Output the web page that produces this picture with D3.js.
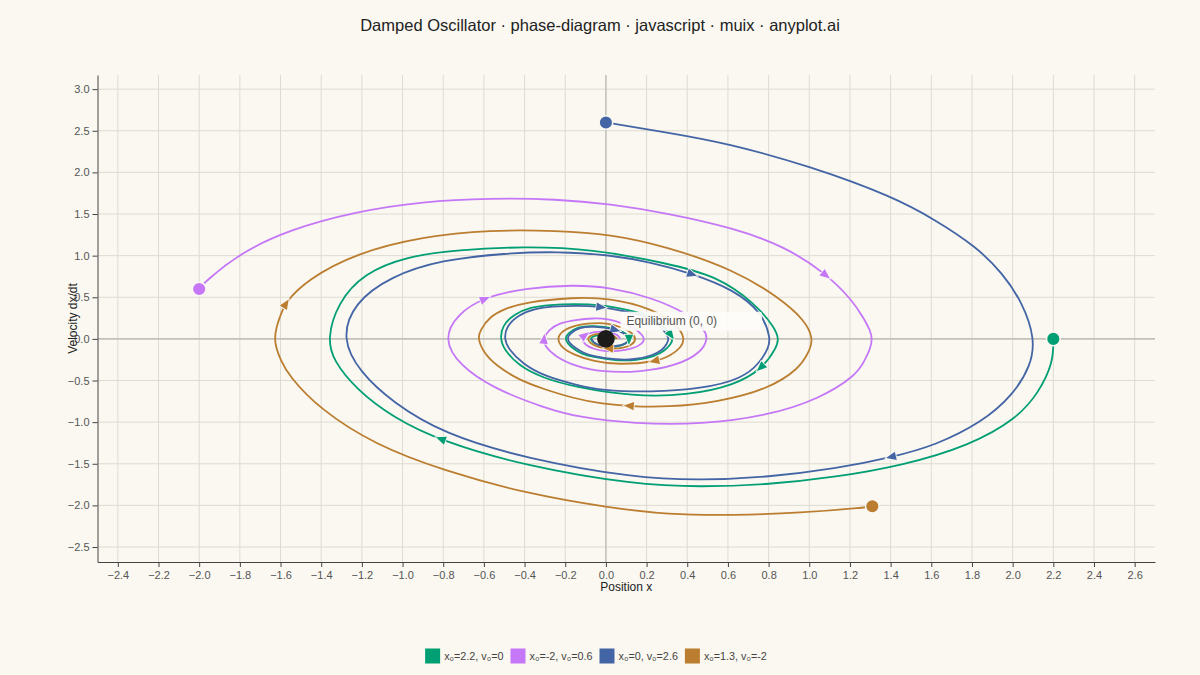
<!DOCTYPE html>
<html>
<head>
<meta charset="utf-8">
<script src="https://cdn.jsdelivr.net/npm/d3@7"></script>
<style>
  html, body { margin: 0; padding: 0; background: #faf8f1; }
  svg { display: block; font-family: "Liberation Sans", Arial, sans-serif; }
</style>
</head>
<body>
<svg id="chart" width="1200" height="675"></svg>
<script>
// ---- data ----
const seriesLabels = ["x₀=2.2, v₀=0", "x₀=-2, v₀=0.6", "x₀=0, v₀=2.6", "x₀=1.3, v₀=-2"];

const greenPath = [
  [2.20, 0], [2.20, -0.28], [2.13, -0.64], [2.02, -0.96], [1.79, -1.28], [1.46, -1.52], [1.13, -1.66],
  [0.80, -1.75], [0.47, -1.78], [0.14, -1.75], [-0.39, -1.53], [-0.81, -1.23], [-1.05, -0.94],
  [-1.23, -0.60], [-1.34, -0.26], [-1.37, 0],
  [-1.32, 0.43], [-1.19, 0.79], [-0.98, 0.99], [-0.73, 1.07], [-0.40, 1.11], [-0.07, 1.08],
  [0.30, 0.91], [0.55, 0.75], [0.73, 0.43], [0.83, 0.14], [0.85, 0],
  [0.84, -0.10], [0.77, -0.36], [0.63, -0.56], [0.40, -0.68], [0.13, -0.69], [-0.15, -0.58],
  [-0.31, -0.47], [-0.43, -0.32], [-0.50, -0.13], [-0.52, 0],
  [-0.51, 0.16], [-0.45, 0.30], [-0.37, 0.38], [-0.28, 0.41], [-0.15, 0.42], [-0.03, 0.41],
  [0.11, 0.35], [0.21, 0.29], [0.28, 0.16], [0.32, 0.05], [0.33, 0],
  [0.32, -0.06], [0.29, -0.14], [0.24, -0.21], [0.15, -0.26], [0.05, -0.26], [-0.06, -0.22],
  [-0.12, -0.18], [-0.16, -0.12], [-0.19, -0.05], [-0.20, 0],
  [-0.19, 0.06], [-0.14, 0.15], [-0.06, 0.16], [0.04, 0.13], [0.10, 0.07], [0.12, 0],
  [0.10, -0.06], [0.05, -0.10], [-0.02, -0.09], [-0.06, -0.05], [-0.08, 0],
  [-0.06, 0.04], [0.00, 0.06], [0.04, 0.03], [0.05, 0]
];

const purplePath = [
  [-2.00, 0.60], [-1.97, 0.69], [-1.80, 1.03], [-1.56, 1.31], [-1.23, 1.53], [-0.90, 1.65],
  [-0.57, 1.69], [-0.24, 1.68], [0.02, 1.62], [0.30, 1.51], [0.63, 1.33], [0.88, 1.11],
  [1.08, 0.79], [1.21, 0.47], [1.27, 0.24], [1.30, 0.10], [1.31, 0],
  [1.30, -0.12], [1.27, -0.27], [1.23, -0.44], [1.05, -0.72], [0.80, -0.92], [0.47, -1.03], [0.14, -1.02],
  [-0.14, -0.94], [-0.30, -0.83], [-0.55, -0.60], [-0.72, -0.32], [-0.80, 0],
  [-0.73, 0.30], [-0.60, 0.50], [-0.40, 0.61], [-0.16, 0.65], [0.02, 0.62], [0.22, 0.50],
  [0.40, 0.31], [0.49, 0.10], [0.50, 0],
  [0.47, -0.16], [0.35, -0.32], [0.17, -0.40], [-0.02, -0.40], [-0.15, -0.33], [-0.25, -0.21],
  [-0.30, -0.09], [-0.31, 0],
  [-0.28, 0.11], [-0.23, 0.19], [-0.15, 0.23], [-0.06, 0.25], [0.01, 0.24], [0.08, 0.19],
  [0.15, 0.12], [0.18, 0.04], [0.19, 0],
  [0.18, -0.06], [0.13, -0.12], [0.06, -0.15], [-0.01, -0.15], [-0.06, -0.12], [-0.10, -0.08], [-0.12, 0],
  [-0.11, 0.04], [-0.06, 0.09], [0.01, 0.09], [0.06, 0.05], [0.07, 0]
];

const bluePath = [
  [0.00, 2.60], [0.30, 2.48], [0.60, 2.35], [1.01, 2.07], [1.41, 1.71], [1.62, 1.43], [1.82, 1.11],
  [1.95, 0.79], [2.05, 0.43], [2.11, 0],
  [2.09, -0.32], [2.00, -0.68], [1.85, -1.00], [1.62, -1.28], [1.41, -1.42], [1.13, -1.56],
  [0.80, -1.66], [0.47, -1.70], [0.14, -1.67], [-0.39, -1.44], [-0.80, -1.14], [-1.05, -0.76],
  [-1.21, -0.40], [-1.30, 0],
  [-1.24, 0.43], [-1.06, 0.75], [-0.81, 0.95], [-0.49, 1.03], [-0.24, 1.05], [0.02, 1.01],
  [0.22, 0.92], [0.42, 0.79], [0.63, 0.59], [0.77, 0.31], [0.81, 0],
  [0.80, -0.10], [0.76, -0.28], [0.67, -0.48], [0.47, -0.60], [0.22, -0.64], [-0.02, -0.62],
  [-0.15, -0.55], [-0.30, -0.45], [-0.41, -0.30], [-0.48, -0.12], [-0.50, 0],
  [-0.49, 0.15], [-0.43, 0.29], [-0.35, 0.36], [-0.27, 0.39], [-0.14, 0.40], [-0.03, 0.39],
  [0.10, 0.33], [0.20, 0.27], [0.27, 0.15], [0.30, 0.05], [0.31, 0],
  [0.30, -0.06], [0.28, -0.13], [0.23, -0.20], [0.14, -0.25], [0.05, -0.25], [-0.06, -0.21],
  [-0.11, -0.17], [-0.15, -0.11], [-0.18, -0.05], [-0.19, 0],
  [-0.18, 0.06], [-0.13, 0.14], [-0.06, 0.15], [0.04, 0.12], [0.09, 0.07], [0.115, 0],
  [0.10, -0.06], [0.05, -0.09], [-0.02, -0.09], [-0.06, -0.05], [-0.07, 0]
];

const orangePath = [
  [1.31, -2.01], [1.26, -2.03], [0.96, -2.09], [0.63, -2.12], [0.30, -2.11], [0.02, -2.03],
  [-0.39, -1.86], [-0.80, -1.58], [-1.13, -1.28], [-1.41, -0.84], [-1.56, -0.44], [-1.60, -0.25],
  [-1.62, -0.12], [-1.63, 0],
  [-1.62, 0.15], [-1.60, 0.28], [-1.58, 0.43], [-1.47, 0.71], [-1.23, 1.03], [-0.90, 1.23], [-0.57, 1.31],
  [-0.24, 1.30], [0.02, 1.26], [0.30, 1.11], [0.63, 0.83], [0.85, 0.50], [0.98, 0.22], [1.02, 0],
  [1.00, -0.15], [0.95, -0.36], [0.80, -0.60], [0.55, -0.76], [0.30, -0.82], [0.12, -0.81],
  [-0.02, -0.78], [-0.15, -0.72], [-0.31, -0.60], [-0.43, -0.49], [-0.54, -0.32], [-0.60, -0.17], [-0.63, 0],
  [-0.62, 0.10], [-0.57, 0.27], [-0.50, 0.36], [-0.40, 0.44], [-0.16, 0.50], [0.02, 0.49],
  [0.22, 0.37], [0.35, 0.18], [0.39, 0],
  [0.37, -0.10], [0.32, -0.20], [0.24, -0.28], [0.06, -0.31], [-0.06, -0.27], [-0.16, -0.19],
  [-0.22, -0.10], [-0.24, 0],
  [-0.22, 0.09], [-0.15, 0.17], [-0.06, 0.19], [0.01, 0.19], [0.08, 0.14], [0.13, 0.07], [0.15, 0],
  [0.13, -0.07], [0.09, -0.11], [0.02, -0.12], [-0.04, -0.10], [-0.08, -0.05], [-0.09, 0],
  [-0.08, 0.04], [-0.03, 0.07], [0.03, 0.06], [0.056, 0]
];

// where the direction arrows sit (points of the paths above)
const greenArrows = [[-0.81, -1.23], [0.77, -0.36], [0.32, 0.05], [0.12, 0]];
const purpleArrows = [[1.08, 0.79], [-0.60, 0.50], [-0.31, 0], [-0.11, 0.04]];
const blueArrows = [[1.41, -1.42], [0.42, 0.79], [-0.03, 0.39], [0.04, 0.12]];
const orangeArrows = [[-1.58, 0.43], [0.12, -0.81], [0.24, -0.28], [0.02, -0.12]];

const xTicks = [-2.4, -2.2, -2.0, -1.8, -1.6, -1.4, -1.2, -1.0, -0.8, -0.6, -0.4, -0.2, 0,
                0.2, 0.4, 0.6, 0.8, 1.0, 1.2, 1.4, 1.6, 1.8, 2.0, 2.2, 2.4, 2.6];
const yTicks = [-2.5, -2.0, -1.5, -1.0, -0.5, 0, 0.5, 1.0, 1.5, 2.0, 2.5, 3.0];

const colors = ["#009e73", "#c577f7", "#4465a5", "#bb7d30"];
const paper = "#faf8f1";

// ---- chart ----
const svg = d3.select("#chart");
const plotLeft = 97.5, plotRight = 1155, plotTop = 75, plotBottom = 562;

const x = d3.scaleLinear().domain([-2.5, 2.7]).range([plotLeft, plotRight]);
const y = d3.scaleLinear().domain([-2.68, 3.17]).range([plotBottom, plotTop]);
const fmt = d3.format(".1f");

svg.append("rect").attr("width", 1200).attr("height", 675).attr("fill", paper);

// grid
svg.append("g").selectAll("line")
  .data(xTicks.filter(d => d !== 0))
  .enter().append("line")
  .attr("x1", d => x(d)).attr("x2", d => x(d))
  .attr("y1", plotTop).attr("y2", plotBottom)
  .attr("stroke", "#dedbd2").attr("stroke-width", 1);

svg.append("g").selectAll("line")
  .data(yTicks.filter(d => d !== 0))
  .enter().append("line")
  .attr("x1", plotLeft).attr("x2", plotRight)
  .attr("y1", d => y(d)).attr("y2", d => y(d))
  .attr("stroke", "#dedbd2").attr("stroke-width", 1);

// zero lines
svg.append("line")
  .attr("x1", x(0)).attr("x2", x(0)).attr("y1", plotTop).attr("y2", plotBottom)
  .attr("stroke", "#c3c1b9").attr("stroke-width", 1.6);
svg.append("line")
  .attr("x1", plotLeft).attr("x2", plotRight).attr("y1", y(0)).attr("y2", y(0))
  .attr("stroke", "#c3c1b9").attr("stroke-width", 1.6);

// axes
const xAxis = svg.append("g")
  .attr("transform", `translate(0,${plotBottom})`)
  .call(d3.axisBottom(x).tickValues(xTicks).tickFormat(fmt).tickSize(5).tickPadding(4).tickSizeOuter(0));
const yAxis = svg.append("g")
  .attr("transform", `translate(${plotLeft},0)`)
  .call(d3.axisLeft(y).tickValues(yTicks).tickFormat(fmt).tickSize(5).tickPadding(3).tickSizeOuter(0));

[xAxis, yAxis].forEach(g => {
  g.select(".domain").attr("stroke", "#444");
  g.selectAll(".tick line").attr("stroke", "#444");
  g.selectAll(".tick text")
    .attr("fill", "#555")
    .style("font-size", "11px")
    .style("font-family", "'Liberation Sans', Arial, sans-serif");
});

// trajectories (B-spline smooths the hand-read points)
const line = d3.line()
  .x(d => x(d[0]))
  .y(d => y(d[1]))
  .curve(d3.curveBasis);

const paths = [greenPath, purplePath, bluePath, orangePath];
const arrows = [greenArrows, purpleArrows, blueArrows, orangeArrows];

const trajNodes = paths.map((p, i) =>
  svg.append("path")
    .datum(p)
    .attr("d", line)
    .attr("fill", "none")
    .attr("stroke", colors[i])
    .attr("stroke-width", 1.8)
    .attr("stroke-linejoin", "round")
    .node()
);

// arrowheads following the path direction
trajNodes.forEach((node, i) => {
  const total = node.getTotalLength();
  arrows[i].forEach(a => {
    const px = x(a[0]), py = y(a[1]);
    let best = 0, bestD = Infinity;
    for (let l = 0; l <= total; l += 1.5) {
      const q = node.getPointAtLength(l);
      const d = (q.x - px) * (q.x - px) + (q.y - py) * (q.y - py);
      if (d < bestD) { bestD = d; best = l; }
    }
    const p0 = node.getPointAtLength(Math.max(0, best - 2));
    const p1 = node.getPointAtLength(Math.min(total, best + 2));
    const c = node.getPointAtLength(best);
    const ang = Math.atan2(p1.y - p0.y, p1.x - p0.x) * 180 / Math.PI;
    svg.append("path")
      .attr("d", "M6,0 L-4,-4.2 L-4,4.2 Z")
      .attr("transform", `translate(${c.x},${c.y}) rotate(${ang})`)
      .attr("fill", colors[i])
      .attr("stroke", paper)
      .attr("stroke-width", 1.6)
      .attr("paint-order", "stroke");
  });
});

// start points
svg.append("g").selectAll("circle")
  .data(paths)
  .enter().append("circle")
  .attr("cx", d => x(d[0][0]))
  .attr("cy", d => y(d[0][1]))
  .attr("r", 6.8)
  .attr("fill", (d, i) => colors[i])
  .attr("stroke", paper)
  .attr("stroke-width", 1.5);

// equilibrium
svg.append("circle")
  .attr("cx", x(0)).attr("cy", y(0)).attr("r", 8.8)
  .attr("fill", "#1b1b19");

svg.append("rect")
  .attr("x", x(0) + 14.5).attr("y", y(0) - 27.2)
  .attr("width", 141.5).attr("height", 19).attr("rx", 2)
  .attr("fill", "#fdfcf8").attr("fill-opacity", 0.92);
svg.append("text")
  .attr("x", x(0) + 20.5).attr("y", y(0) - 14)
  .attr("fill", "#555")
  .style("font-size", "12px")
  .text("Equilibrium (0, 0)");

// title and axis labels
svg.append("text")
  .attr("x", 600).attr("y", 31)
  .attr("text-anchor", "middle")
  .attr("fill", "#222")
  .style("font-size", "16.5px")
  .text("Damped Oscillator · phase-diagram · javascript · muix · anyplot.ai");

svg.append("text")
  .attr("x", (plotLeft + plotRight) / 2).attr("y", 591)
  .attr("text-anchor", "middle")
  .attr("fill", "#222")
  .style("font-size", "12px")
  .text("Position x");

svg.append("text")
  .attr("transform", `translate(77,${(plotTop + plotBottom) / 2}) rotate(-90)`)
  .attr("text-anchor", "middle")
  .attr("fill", "#222")
  .style("font-size", "12px")
  .text("Velocity dx/dt");

// legend
const legend = svg.append("g");
let lx = 0;
seriesLabels.forEach((name, i) => {
  const item = legend.append("g").attr("transform", `translate(${lx},0)`);
  item.append("rect")
    .attr("x", 0).attr("y", 0).attr("width", 15).attr("height", 15)
    .attr("fill", colors[i]);
  const t = item.append("text")
    .attr("x", 19).attr("y", 11.5)
    .attr("fill", "#444")
    .style("font-size", "10.8px")
    .text(name);
  lx += 19 + t.node().getComputedTextLength() + 7;
});
const legendWidth = lx - 7;
legend.attr("transform", `translate(${596 - legendWidth / 2},648.5)`);
</script>
</body>
</html>
